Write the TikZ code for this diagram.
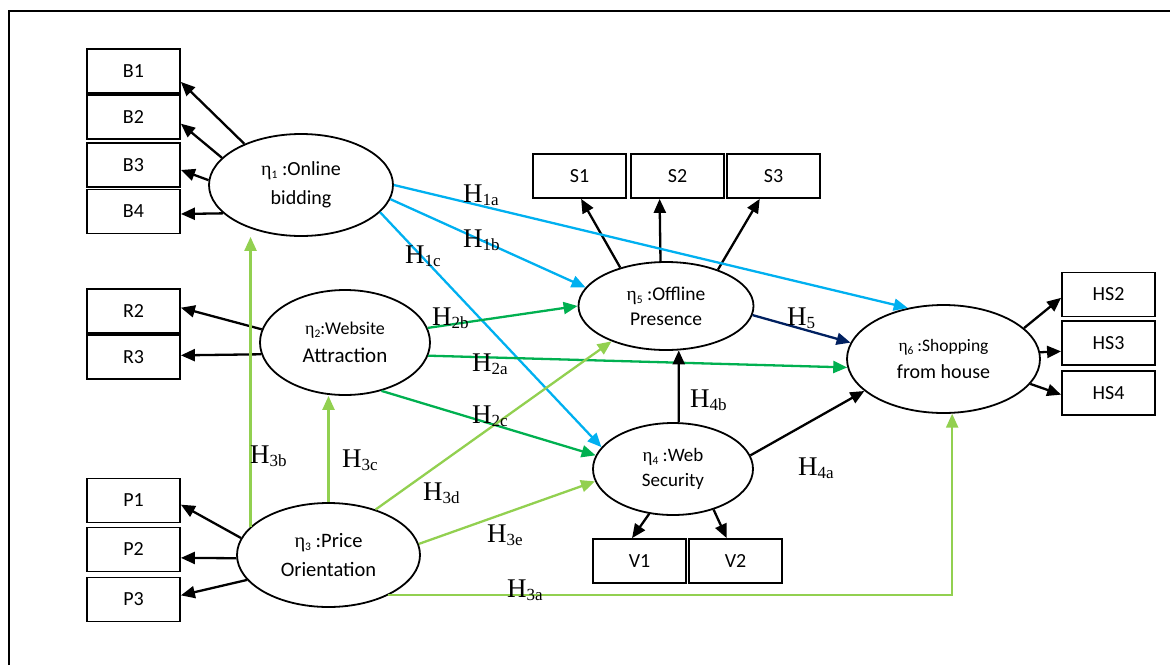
\documentclass[tikz,border=0pt]{standalone}
\usepackage{fontspec}
\setmainfont{Carlito}
\newfontfamily\hfont{Liberation Serif}
\usetikzlibrary{arrows.meta,shapes.geometric}
\definecolor{cy}{HTML}{00B0F0}
\definecolor{gr}{HTML}{00B050}
\definecolor{lg}{HTML}{92D050}
\definecolor{nv}{HTML}{002060}
\newcommand{\et}[1]{{\hfont η}\raisebox{-0.15em}{\fontsize{11.5}{11.5}\selectfont #1}}
\newcommand{\Hl}[1]{{\hfont\fontsize{27}{27}\selectfont H\raisebox{-3.5pt}{\fontsize{17}{17}\selectfont #1}}}
\begin{document}
\begin{tikzpicture}[x=1pt,y=-1pt,
  box/.style={draw,line width=1.8pt,minimum width=93pt,minimum height=44pt,inner sep=0pt,font=\fontsize{20}{22}\selectfont},
  lat/.style={draw,ellipse,fill=white,line width=1.8pt,inner sep=0pt,align=center},
  ar/.style={line width=2.3pt,-{Triangle[length=14pt,width=12pt]}},
  lab/.style={anchor=base west,inner sep=0pt}]
\useasboundingbox (0,0) rectangle (1170,665);
\draw[line width=1.8pt] (9,665) -- (9,11) -- (1170,11);

% boxes
\node[box] (b1) at (133.5,71) {B1};
\node[box] (b2) at (133.5,117) {B2};
\node[box] (b3) at (133.5,165) {B3};
\node[box] (b4) at (133.5,211.5) {B4};
\node[box] (r2) at (133.5,311) {R2};
\node[box] (r3) at (133.5,357) {R3};
\node[box] (p1) at (133.5,500.5) {P1};
\node[box] (p2) at (133.5,549.5) {P2};
\node[box] (p3) at (133.5,599.5) {P3};
\node[box] (s1) at (579.5,176) {S1};
\node[box] (s2) at (677.5,176) {S2};
\node[box] (s3) at (773.5,176) {S3};
\node[box] (v1) at (639.5,561) {V1};
\node[box] (v2) at (735.5,561) {V2};
\node[box] (hs2) at (1108.5,294.5) {HS2};
\node[box] (hs3) at (1108.5,343) {HS3};
\node[box] (hs4) at (1108.5,393) {HS4};

% latent variables
\node[lat,minimum width=184pt,minimum height=102pt,font=\fontsize{20}{29}\selectfont] (e1) at (301,185) {\et{1} :Online\\bidding};
\node[lat,minimum width=170pt,minimum height=105pt,font=\fontsize{21}{28}\selectfont] (e2) at (345,342.5) {{\fontsize{18}{18}\selectfont\et{2}:Website}\\Attraction};
\node[lat,minimum width=183pt,minimum height=104pt,font=\fontsize{20.5}{29}\selectfont] (e3) at (328.5,555) {\et{3} :Price\\Orientation};
\node[lat,minimum width=160pt,minimum height=92pt,font=\fontsize{19}{25}\selectfont] (e4) at (673,469) {\et{4} :Web\\Security};
\node[lat,minimum width=175pt,minimum height=88pt,font=\fontsize{19.5}{25}\selectfont] (e5) at (666,306) {\et{5} :Offline\\Presence};
\node[lat,minimum width=193pt,minimum height=108pt,font=\fontsize{20}{27}\selectfont] (e6) at (943.5,359) {{\fontsize{17.5}{17.5}\selectfont\et{6} :Shopping}\\from house};

% measurement arrows
\draw[ar] (e1.144.7) -- (b1.-13.3);
\draw[ar] (e1.161.1) -- (b2.-8.6);
\draw[ar] (e1.177.5) -- (b3.-6.1);
\draw[ar] (e1.200.9) -- (b4.-3.1);
\draw[ar] (e2.171.8) -- (r2.4.9);
\draw[ar] (e2.188.9) -- (r3.2.5);
\draw[ar] (e3.169) -- (p1.-5.5);
\draw[ar] (e3.182.5) -- (p2.-10.4);
\draw[ar] (e3.197.3) -- (p3.5.5);
\draw[ar] (e5.140.4) -- (s1.-86);
\draw[ar] (e5.97.8) -- (s2.-128.5);
\draw[ar] (e5.35.2) -- (s3.-121.5);
\draw[ar] (e4.-118.6) -- (v1.108.8);
\draw[ar] (e4.-45.7) -- (v2.111.1);
\draw[ar] (e6.21.4) -- (hs2.184.3);
\draw[ar] (e6.4.4) -- (hs3.190.9);
\draw[ar] (e6.-16.5) -- (hs4.182.5);

% structural paths
\draw[ar,cy] (e1.0) -- (e6.125.8);
\draw[ar,cy] (e1.-9.5) -- (e5.167);
\draw[ar,cy] (e1.-19.3) -- (e4.163.5);
\draw[ar,gr] (e2.10.7) -- (e5.180);
\draw[ar,gr] (e2.-9.7) -- (e6.185.3);
\draw[ar,gr] (e2.-53.6) -- (e4.170.2);
\draw[ar,lg] (e3.160.4) -- (e3.160.4 |- e1.south);
\draw[ar,lg] (e3.north) -- (e3.north |- e2.south);
\draw[ar,lg] (e3.44.1) -- (e5.213);
\draw[ar,lg] (e3.7.6) -- (e4.189.8);
\draw[ar,lg] (e3.-34) -| (e6.-81);
\draw[ar] (e4.10) -- (e6.202.6);
\draw[ar] (e4.83.8) -- (e5.-74.7);
\draw[ar,nv] (e5.-6) -- (e6.170);

% labels
\node[lab] (l1a) at (463,202) {\Hl{1a}};
\node[lab] (l1b) at (463,247) {\Hl{1b}};
\node[lab] (l1c) at (405,263) {\Hl{1c}};
\node[lab] (l2b) at (432,325) {\Hl{2b}};
\node[lab] (l2a) at (472,371) {\Hl{2a}};
\node[lab] (l2c) at (472,423) {\Hl{2c}};
\node[lab] (l3b) at (250,463) {\Hl{3b}};
\node[lab] (l3c) at (342,467) {\Hl{3c}};
\node[lab] (l3d) at (423,500) {\Hl{3d}};
\node[lab] (l3e) at (487,542) {\Hl{3e}};
\node[lab] (l3a) at (507,597) {\Hl{3a}};
\node[lab] (l4b) at (690,407) {\Hl{4b}};
\node[lab] (l4a) at (798,475) {\Hl{4a}};
\node[lab] (l5) at (787,325) {\Hl{5}};
\end{tikzpicture}
\end{document}
